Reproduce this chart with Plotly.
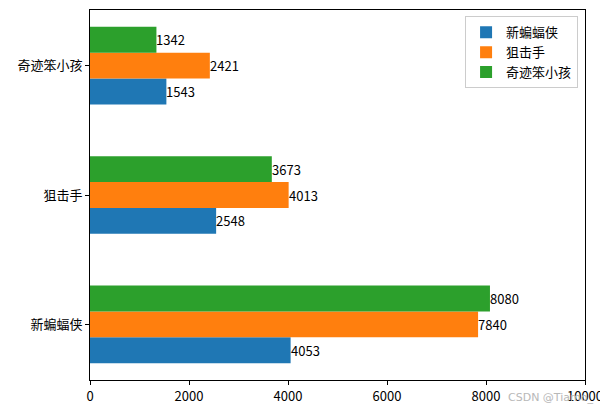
import plotly.graph_objects as go

categories = ["新蝙蝠侠", "狙击手", "奇迹笨小孩"]
series_names = ["新蝙蝠侠", "狙击手", "奇迹笨小孩"]
vals_batman = [4053, 2548, 1543]
vals_sniper = [7840, 4013, 2421]
vals_kids = [8080, 3673, 1342]
x_ticks = [0, 2000, 4000, 6000, 8000, 10000]

series_values = [vals_batman, vals_sniper, vals_kids]
colors = ["#1f77b4", "#ff7f0e", "#2ca02c"]
offsets = [-0.2, 0.0, 0.2]
bar_h = 0.2
FONT = "SimHei, Noto Sans CJK SC, sans-serif"

fig = go.Figure()
ypos_base = list(range(len(categories)))
annotations = []
for name, vals, c, off in zip(series_names, series_values, colors, offsets):
    ys = [i + off for i in ypos_base]
    fig.add_trace(go.Bar(
        x=vals, y=ys, orientation="h", width=bar_h, name=name,
        marker=dict(color=c, line=dict(width=0)),
    ))
    for v, yy in zip(vals, ys):
        annotations.append(dict(
            x=v, y=yy, xref="x", yref="y", text=str(v), showarrow=False,
            xanchor="left", yanchor="middle", xshift=-2,
            font=dict(size=13, color="black", family=FONT),
        ))

annotations.append(dict(
    x=1.0, y=0, xref="paper", yref="paper", text="CSDN @Tiamo_", showarrow=False,
    xanchor="right", yanchor="top", xshift=10, yshift=-9,
    font=dict(size=11, color="#b8b8b8", family="DejaVu Sans, sans-serif"),
))

fig.update_layout(
    width=600, height=403,
    margin=dict(l=82, r=23, t=2, b=31),
    paper_bgcolor="white", plot_bgcolor="white",
    barmode="overlay",
    font=dict(family=FONT, size=13, color="black"),
    showlegend=True,
    legend=dict(
        x=0.986, xanchor="right", y=0.983, yanchor="top",
        bordercolor="#cccccc", borderwidth=1, bgcolor="rgba(255,255,255,0.8)",
        font=dict(size=13, family=FONT), traceorder="normal",
        itemwidth=30, tracegroupgap=0,
    ),
    annotations=annotations,
    xaxis=dict(
        range=[0, 10000], tickvals=x_ticks, ticktext=[str(t) for t in x_ticks],
        showgrid=False, zeroline=False, showline=True, linecolor="black",
        linewidth=1, mirror=True, ticks="outside", ticklen=4, tickcolor="black",
        tickfont=dict(size=13),
    ),
    yaxis=dict(
        range=[-0.43, 2.43], tickvals=ypos_base, ticktext=categories,
        showgrid=False, zeroline=False, showline=True, linecolor="black",
        linewidth=1, mirror=True, ticks="outside", ticklen=4, tickcolor="black",
        tickfont=dict(size=13),
    ),
)

fig.write_html("out.html")
